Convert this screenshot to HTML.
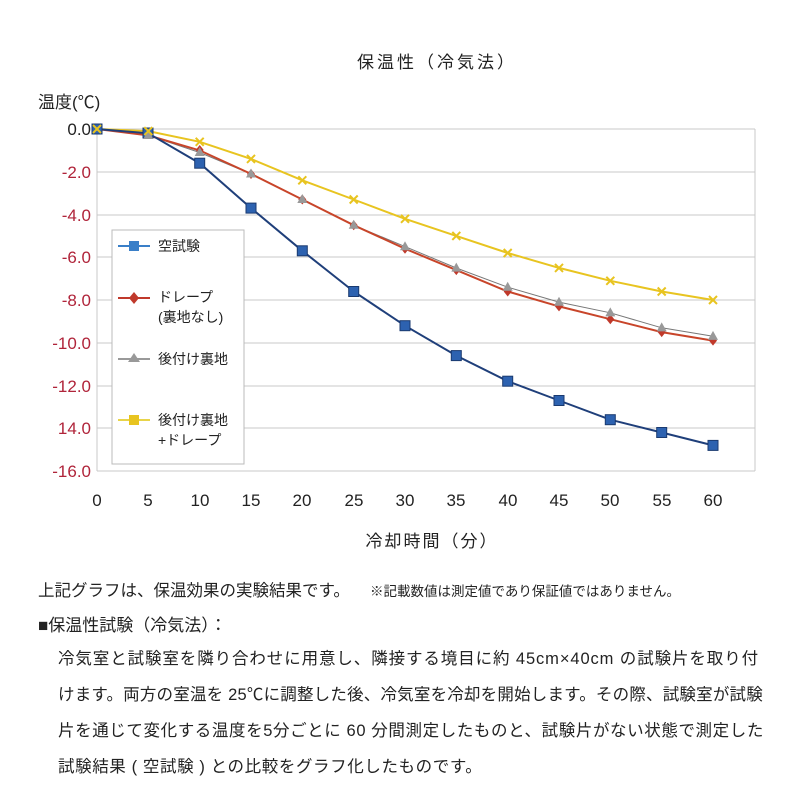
<!DOCTYPE html>
<html><head><meta charset="utf-8"><style>
body{margin:0;background:#fff;width:800px;height:800px;overflow:hidden;font-family:"Liberation Sans","Noto Sans CJK JP",sans-serif;}
.t{position:absolute;white-space:nowrap;color:#222;}
</style></head><body>
<svg width="800" height="570" style="position:absolute;left:0;top:0" font-family="Liberation Sans, Noto Sans CJK JP, sans-serif">
<text x="437" y="68" font-size="17" text-anchor="middle" fill="#222" letter-spacing="3">保温性（冷気法）</text>
<text x="38" y="108" font-size="17" fill="#222">温度(℃)</text>
<g stroke="#c8c8c8" stroke-width="1">
<line x1="97" y1="172" x2="755" y2="172"/><line x1="97" y1="215" x2="755" y2="215"/>
<line x1="97" y1="257" x2="755" y2="257"/><line x1="97" y1="300" x2="755" y2="300"/>
<line x1="97" y1="343" x2="755" y2="343"/><line x1="97" y1="386" x2="755" y2="386"/>
<line x1="97" y1="428" x2="755" y2="428"/><line x1="97" y1="129" x2="755" y2="129"/>
<line x1="97" y1="471" x2="755" y2="471"/><line x1="97" y1="129" x2="97" y2="471"/>
<line x1="755" y1="129" x2="755" y2="471"/>
</g>
<g font-size="17" text-anchor="end" fill="#b0243a">
<text x="91" y="135" fill="#222">0.0</text><text x="91" y="178">-2.0</text><text x="91" y="221">-4.0</text>
<text x="91" y="263">-6.0</text><text x="91" y="306">-8.0</text><text x="91" y="349">-10.0</text>
<text x="91" y="392">-12.0</text><text x="91" y="434">14.0</text><text x="91" y="477">-16.0</text>
</g>
<g font-size="17" text-anchor="middle" fill="#222">
<text x="97" y="506">0</text><text x="148" y="506">5</text><text x="200" y="506">10</text><text x="251" y="506">15</text>
<text x="302" y="506">20</text><text x="354" y="506">25</text><text x="405" y="506">30</text><text x="456" y="506">35</text>
<text x="508" y="506">40</text><text x="559" y="506">45</text><text x="610" y="506">50</text><text x="662" y="506">55</text><text x="713" y="506">60</text>
<text x="432" y="547" letter-spacing="2">冷却時間（分）</text>
</g>
<polyline fill="none" stroke="#777" stroke-width="1" points="97,129 148.3,135.4 199.7,152.5 251,173.9 302.3,199.5 353.7,225.2 405,246.6 456.3,268 507.7,287.2 559,302.1 610.3,312.8 661.7,327.8 713,336.3"/>
<polyline fill="none" stroke="#c8452a" stroke-width="2" points="97,129 148.3,135.4 199.7,150.4 251,173.9 302.3,199.5 353.7,225.2 405,248.7 456.3,270.1 507.7,291.5 559,306.4 610.3,319.2 661.7,332.1 713,340.6"/>
<polyline fill="none" stroke="#e8c420" stroke-width="2" points="97,129 148.3,131.1 199.7,141.8 251,158.9 302.3,180.3 353.7,199.5 405,218.8 456.3,235.9 507.7,253 559,267.9 610.3,280.8 661.7,291.5 713,300"/>
<polyline fill="none" stroke="#1f3f7a" stroke-width="2" points="97,129 148.3,133.3 199.7,163.2 251,208.1 302.3,250.8 353.7,291.5 405,325.7 456.3,355.6 507.7,381.2 559,400.5 610.3,419.7 661.7,432.5 713,445.4"/>
<g fill="#2d62b0" stroke="#1a3a70" stroke-width="1">
<rect x="143" y="128" width="10" height="10"/><rect x="194.7" y="158.2" width="10" height="10"/><rect x="246" y="203.1" width="10" height="10"/>
<rect x="297.3" y="245.8" width="10" height="10"/><rect x="348.7" y="286.5" width="10" height="10"/><rect x="400" y="320.7" width="10" height="10"/>
<rect x="451.3" y="350.6" width="10" height="10"/><rect x="502.7" y="376.2" width="10" height="10"/><rect x="554" y="395.5" width="10" height="10"/>
<rect x="605.3" y="414.7" width="10" height="10"/><rect x="656.7" y="427.5" width="10" height="10"/><rect x="708" y="440.4" width="10" height="10"/>
<rect x="92" y="124" width="10" height="10"/>
</g>
<g fill="#c0392b">
<path d="M199.7,145l4,5-4,5-4-5z"/><path d="M251,169l4,5-4,5-4-5z"/><path d="M302.3,194.5l4,5-4,5-4-5z"/><path d="M353.7,220.2l4,5-4,5-4-5z"/>
<path d="M405,243.7l4,5-4,5-4-5z"/><path d="M456.3,265.1l4,5-4,5-4-5z"/><path d="M507.7,286.5l4,5-4,5-4-5z"/><path d="M559,301.4l4,5-4,5-4-5z"/>
<path d="M610.3,314.2l4,5-4,5-4-5z"/><path d="M661.7,327.1l4,5-4,5-4-5z"/><path d="M713,335.6l4,5-4,5-4-5z"/>
</g>
<g fill="#999">
<path d="M148.3,130l5,9h-10z"/><path d="M199.7,147l5,9h-10z"/><path d="M251,168.5l5,9h-10z"/><path d="M302.3,194l5,9h-10z"/>
<path d="M353.7,219.8l5,9h-10z"/><path d="M405,241.2l5,9h-10z"/><path d="M456.3,262.6l5,9h-10z"/><path d="M507.7,281.8l5,9h-10z"/>
<path d="M559,296.7l5,9h-10z"/><path d="M610.3,307.4l5,9h-10z"/><path d="M661.7,322.4l5,9h-10z"/><path d="M713,330.9l5,9h-10z"/>
</g>
<g stroke="#e8c420" stroke-width="2">
<path d="M93,125l8,8M101,125l-8,8"/><path d="M144.3,127.1l8,8M152.3,127.1l-8,8"/><path d="M195.7,137.8l8,8M203.7,137.8l-8,8"/>
<path d="M247,154.9l8,8M255,154.9l-8,8"/><path d="M298.3,176.3l8,8M306.3,176.3l-8,8"/><path d="M349.7,195.5l8,8M357.7,195.5l-8,8"/>
<path d="M401,214.8l8,8M409,214.8l-8,8"/><path d="M452.3,231.9l8,8M460.3,231.9l-8,8"/><path d="M503.7,249l8,8M511.7,249l-8,8"/>
<path d="M555,263.9l8,8M563,263.9l-8,8"/><path d="M606.3,276.8l8,8M614.3,276.8l-8,8"/><path d="M657.7,287.5l8,8M665.7,287.5l-8,8"/>
<path d="M709,296l8,8M717,296l-8,8"/>
</g>
<rect x="112" y="230" width="132" height="234" fill="#fff" stroke="#bbb"/>
<line x1="118" y1="246" x2="150" y2="246" stroke="#3a7fc8" stroke-width="2"/><rect x="129" y="241" width="10" height="10" fill="#3a7fc8"/>
<line x1="118" y1="298" x2="150" y2="298" stroke="#c0392b" stroke-width="2"/><path d="M134,292l5,6-5,6-5-6z" fill="#c0392b"/>
<line x1="118" y1="359" x2="150" y2="359" stroke="#999" stroke-width="2"/><path d="M134,353l6,9h-12z" fill="#999"/>
<line x1="118" y1="420" x2="150" y2="420" stroke="#e8d44a" stroke-width="2"/><rect x="129" y="415" width="10" height="10" fill="#e8c420"/>
<g font-size="14" fill="#222">
<text x="158" y="251">空試験</text><text x="158" y="302">ドレープ</text><text x="158" y="322">(裏地なし)</text>
<text x="158" y="364">後付け裏地</text><text x="158" y="425">後付け裏地</text><text x="158" y="445">+ドレープ</text>
</g>
</svg>
<div class="t" style="left:38px;top:577px;font-size:16.5px;">上記グラフは、保温効果の実験結果です。</div>
<div class="t" style="left:370px;top:580px;font-size:13.5px;">※記載数値は測定値であり保証値ではありません。</div>
<div class="t" style="left:38px;top:611px;font-size:17px;">■保温性試験（冷気法）：</div>
<div class="t" style="left:58px;top:645px;font-size:16.5px;letter-spacing:0.9px;">冷気室と試験室を隣り合わせに用意し、隣接する境目に約 45cm×40cm の試験片を取り付</div>
<div class="t" style="left:58px;top:681px;font-size:16.5px;letter-spacing:0.2px;">けます。両方の室温を 25℃に調整した後、冷気室を冷却を開始します。その際、試験室が試験</div>
<div class="t" style="left:58px;top:717px;font-size:16.5px;letter-spacing:0.6px;">片を通じて変化する温度を5分ごとに 60 分間測定したものと、試験片がない状態で測定した</div>
<div class="t" style="left:58px;top:753px;font-size:16.5px;letter-spacing:0.6px;">試験結果 ( 空試験 ) との比較をグラフ化したものです。</div>
</body></html>
